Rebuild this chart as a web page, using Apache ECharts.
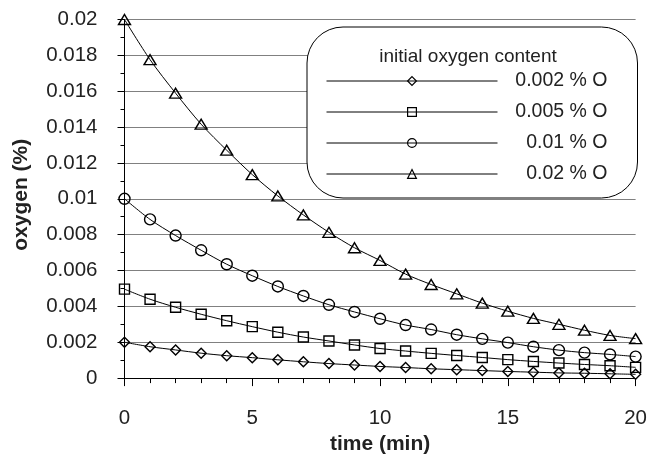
<!DOCTYPE html>
<html>
<head>
<meta charset="utf-8">
<script src="https://cdn.jsdelivr.net/npm/echarts@6/dist/echarts.min.js"></script>
<style>
  html, body { margin: 0; padding: 0; background: #fff; }
  #chart { width: 650px; height: 460px; }
</style>
</head>
<body>
<div id="chart"></div>
<script>
// time (min)
const times = [0, 1, 2, 3, 4, 5, 6, 7, 8, 9, 10, 11, 12, 13, 14, 15, 16, 17, 18, 19, 20];
// oxygen (%) for each initial oxygen content
const o0002 = [0.002, 0.00175, 0.00157, 0.00139, 0.00125, 0.00114, 0.00102, 0.00091, 0.00081, 0.00073, 0.00065,
               0.00059, 0.00052, 0.00047, 0.00042, 0.00037, 0.00033, 0.00029, 0.00027, 0.00024, 0.00021];
const o0005 = [0.00496, 0.0044, 0.00395, 0.00356, 0.0032, 0.00287, 0.00256, 0.00229, 0.00207, 0.00185, 0.00165,
               0.00151, 0.00138, 0.00126, 0.00115, 0.00103, 0.00093, 0.00084, 0.00076, 0.00069, 0.0006];
const o001 = [0.01, 0.00885, 0.00795, 0.00713, 0.00635, 0.00571, 0.00511, 0.00458, 0.00409, 0.00369, 0.00331,
              0.00296, 0.00271, 0.00242, 0.00219, 0.00198, 0.00175, 0.00156, 0.00142, 0.00132, 0.0012];
const o002 = [0.02, 0.01776, 0.01589, 0.01416, 0.01271, 0.01135, 0.01016, 0.0091, 0.00813, 0.00727, 0.00656,
              0.0058, 0.00522, 0.0047, 0.00418, 0.00373, 0.00333, 0.003, 0.00267, 0.00238, 0.0022];
const seriesNames = ['0.002 % O', '0.005 % O', '0.01 % O', '0.02 % O'];
const seriesValues = [o0002, o0005, o001, o002];
const legendTitle = 'initial oxygen content';

const FONT = '"Liberation Sans", Arial, sans-serif';
const symbols = ['diamond', 'rect', 'circle', 'triangle'];
const symbolSizes = [10, 10, 11, [12, 10]];

const chart = echarts.init(document.getElementById('chart'), null, { renderer: 'canvas' });

const series = seriesNames.map((name, i) => ({
  name: name,
  type: 'line',
  data: times.map((t, j) => [t, seriesValues[i][j]]),
  smooth: 0.3,
  symbol: symbols[i],
  symbolSize: symbolSizes[i],
  showAllSymbol: true,
  lineStyle: { color: '#000', width: 1 },
  itemStyle: { color: 'rgba(255,255,255,0)', borderColor: '#000', borderWidth: 1.4 },
  emphasis: { disabled: true },
  z: 3
}));

chart.setOption({
  animation: false,
  backgroundColor: '#fff',
  grid: { left: 124.5, right: 12, top: 19.5, bottom: 74, containLabel: false },
  xAxis: {
    type: 'value',
    min: 0, max: 20, interval: 5,
    name: 'time (min)',
    nameLocation: 'middle',
    nameGap: 52,
    nameTextStyle: { fontFamily: FONT, fontSize: 21, fontWeight: 'bold', color: '#222' },
    axisLine: { onZero: false, lineStyle: { color: '#000', width: 1 } },
    axisTick: { show: true, inside: false, length: 8, lineStyle: { color: '#000' } },
    minorTick: { show: true, splitNumber: 5, length: 5, lineStyle: { color: '#000' } },
    axisLabel: { fontFamily: FONT, fontSize: 20.5, color: '#222', margin: 30 },
    splitLine: { show: false }
  },
  yAxis: {
    type: 'value',
    min: 0, max: 0.02, interval: 0.002,
    name: 'oxygen (%)',
    nameLocation: 'middle',
    nameGap: 93,
    nameTextStyle: { fontFamily: FONT, fontSize: 21, fontWeight: 'bold', color: '#222', padding: [0, 0, 0, 8] },
    axisLine: { show: true, lineStyle: { color: '#000', width: 1 } },
    axisTick: { show: true, inside: false, length: 7, lineStyle: { color: '#000' } },
    minorTick: { show: true, splitNumber: 2, length: 4, lineStyle: { color: '#000' } },
    axisLabel: { fontFamily: FONT, fontSize: 20.5, color: '#222', margin: 27 },
    splitLine: { show: true, lineStyle: { color: '#808080', width: 1.2 } }
  },
  legend: {
    data: seriesNames,
    orient: 'vertical',
    left: 307,
    top: 27,
    itemWidth: 171,
    itemHeight: 11,
    itemGap: 11,
    padding: [44, 30, 14, 19],
    backgroundColor: '#fff',
    borderColor: '#000',
    borderWidth: 1,
    borderRadius: 36,
    selectedMode: false,
    lineStyle: { width: 1, color: '#000' },
    itemStyle: { borderWidth: 1.2, borderColor: '#000', color: 'rgba(255,255,255,0)' },
    formatter: '{a|{name}}',
    textStyle: {
      fontFamily: FONT, fontSize: 19.5, color: '#222',
      rich: { a: { width: 105, align: 'right', fontFamily: FONT, fontSize: 19.5, color: '#222' } }
    },
    z: 10
  },
  graphic: [{
    type: 'text',
    x: 468,
    y: 57,
    z: 100,
    style: {
      text: legendTitle,
      font: '19px ' + FONT,
      fill: '#222',
      textAlign: 'center',
      textVerticalAlign: 'middle'
    }
  }],
  series: series
});
</script>
</body>
</html>
